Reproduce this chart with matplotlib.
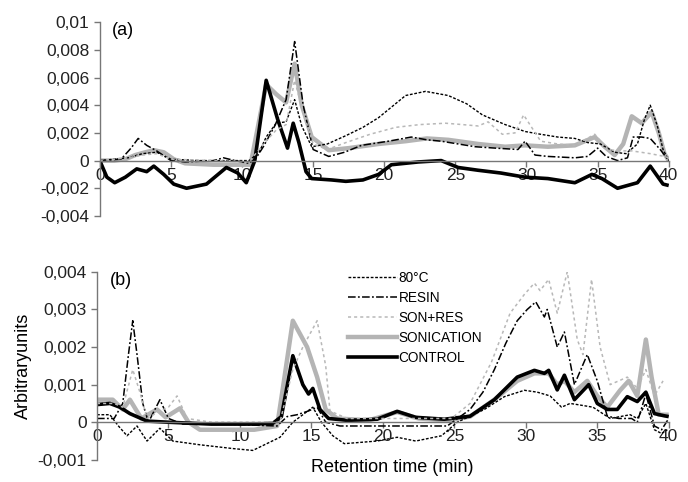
import matplotlib
matplotlib.use("Agg")
import matplotlib.pyplot as plt
from matplotlib.lines import Line2D

plt.rcParams['font.family'] = ['Liberation Sans', 'DejaVu Sans']

# ---------------- panel (a) ----------------
t_ctrl_a = [0, 0.5, 1.05, 1.8, 2.6, 3.3, 3.8, 4.5, 5.2, 6.1, 7.5, 8.9, 9.7, 10.3, 10.9, 11.7, 12.5, 13.2, 13.6, 14.0,
            14.5, 14.9, 16.3, 17.3, 18.5, 19.6, 20.5, 22.4, 24.0, 25.2, 26.6, 28.2, 29.9, 31.5, 33.4, 34.6, 35.3,
            36.4, 37.8, 38.7, 39.6, 40]
ctrl_a = [0, -0.0012, -0.0016, -0.0012, -0.0006, -0.0008, -0.0004, -0.001, -0.0017, -0.002, -0.0017, -0.0005,
          -0.0009, -0.0016, 0.0, 0.0058, 0.003, 0.0009, 0.0027, 0.0013, -0.0008, -0.0013, -0.0014, -0.0015, -0.0014,
          -0.001, -0.0003, -0.0001, 0.0, -0.0005, -0.0007, -0.0009, -0.0012, -0.0013, -0.0016, -0.001, -0.0013,
          -0.002, -0.0016, -0.0004, -0.0017, -0.0018]

t_son_a = [0, 1, 1.8, 2.5, 3.2, 3.8, 4.5, 5.2, 6, 8, 10, 10.6, 11.7, 12.4, 13.1, 13.7, 14.2, 14.9, 16.1, 17.5, 19.6,
           21.5, 23, 24.5, 26.6, 28.5, 29.9, 31.5, 33.4, 34.8, 35.5, 36.2, 36.8, 37.4, 38.1, 38.8, 39.3, 39.7, 40]
son_a = [0, 0, 0.0001, 0.0004, 0.0006, 0.00075, 0.0006, 0.0001, -0.0002, -0.0003, -0.0003, -0.0003, 0.0055, 0.0048,
         0.0042, 0.007, 0.004, 0.0017, 0.00075, 0.0009, 0.0012, 0.0014, 0.0016, 0.0015, 0.0012, 0.001, 0.0011, 0.001,
         0.0011, 0.0017, 0.001, 0.0004, 0.0012, 0.0032, 0.0027, 0.0035, 0.002, 0.0005, 0.0]

t_80_a = [0, 2, 3, 4, 5, 7, 9, 10.5, 11.2, 11.7, 12.4, 13.1, 13.7, 14.2, 14.9, 16, 17.3, 18.5, 19.6, 21.5, 22.9, 24.5,
          25.8, 26.9, 28.5, 29.9, 31, 32.2, 33.4, 34.3, 35.2, 36.2, 37, 37.8, 38.3, 38.7, 39.2, 39.6, 40]
h80_a = [0, 0.0002, 0.0005, 0.0006, 0.0001, 0, 0, 0, 0.0006, 0.0017, 0.0027, 0.0028, 0.0044, 0.0025, 0.001, 0.0012,
         0.0018, 0.0024, 0.0031, 0.0047, 0.005, 0.0047, 0.0041, 0.0033, 0.0026, 0.0021, 0.0019, 0.0017, 0.0016,
         0.0013, 0.0012, 0.0006, 0.0005, 0.0012, 0.003, 0.004, 0.0025, 0.0008, 0.0]

t_res_a = [0, 1.5, 2.2, 2.7, 3.3, 4, 5, 6, 8, 8.7, 9.5, 10.5, 11, 11.5, 12.3, 13.1, 13.7, 14.3, 15, 16.1, 17.2, 18.4,
           20.3, 21.9, 23, 24, 26.4, 27.8, 29.4, 29.9, 30.6, 31.5, 33.4, 34.3, 35, 35.6, 36.4, 37.1, 37.5, 38.1,
           38.7, 39.4, 40]
res_a = [0, 0.0001, 0.0009, 0.0016, 0.0011, 0.0007, 0.0, -0.0001, 0.0, 0.0002, 0.0, -0.0002, 0.0002, 0.001, 0.0025,
         0.0044, 0.0086, 0.004, 0.0008, 0.0003, 0.0006, 0.0011, 0.0014, 0.0017, 0.0015, 0.0014, 0.001, 0.0009,
         0.0008, 0.0014, 0.0004, 0.0003, 0.0002, 0.0003, 0.0009, 0.0003, 0.0, 0.0002, 0.0017, 0.0017, 0.0016,
         0.0008, 0.0]

t_sr_a = [0, 2, 3, 4, 5, 8, 10.5, 11.5, 12.4, 13.1, 13.7, 14.3, 15, 16, 17.3, 19, 20.8, 22.5, 24.3, 25.5, 26.6, 27.3,
          28.3, 29.2, 29.8, 30.3, 31, 32.2, 33.4, 34.8, 35.7, 36.5, 37.4, 38.7, 39.7, 40]
sr_a = [0, 0.0002, 0.0004, 0.0005, 0.0001, 0, -0.0001, 0.0012, 0.0022, 0.0026, 0.0058, 0.0035, 0.0012, 0.0008,
        0.0013, 0.0019, 0.0024, 0.0026, 0.0027, 0.0026, 0.0025, 0.0028, 0.0019, 0.002, 0.0033, 0.0025, 0.0014,
        0.0012, 0.0011, 0.0019, 0.0008, 0.0007, 0.0007, 0.0005, 0.0003, 0.0002]

# ---------------- panel (b) ----------------
t_ctrl_b = [0, 0.9, 1.6, 2.3, 3.5, 5, 8, 11, 12.3, 12.9, 13.7, 14.4, 14.8, 15.1, 15.6, 16.2, 17.5, 19.6, 21, 22.3,
            24.3, 26.1, 27.8, 29.4, 30.6, 31.3, 31.6, 32.2, 32.7, 33.4, 33.9, 34.4, 35, 35.7, 36.4, 37.1, 37.8,
            38.4, 39, 39.7, 40]
ctrl_b = [0.00047, 0.0005, 0.0004, 0.00023, 0.00003, 0.0, -0.00005, -0.00005, -0.00003, 0.00015, 0.00177, 0.001,
          0.00075, 0.0009, 0.00034, 0.0001, 0.00005, 0.00008, 0.00029, 0.00013, 0.00008, 0.00016, 0.0006, 0.0012,
          0.00138, 0.0013, 0.00138, 0.00086, 0.00125, 0.0006, 0.0008, 0.001, 0.0005, 0.00034, 0.00034, 0.00068,
          0.00055, 0.0008, 0.00023, 0.00017, 0.00015]

t_son_b = [0, 1.1, 1.8, 2.3, 3.1, 4.2, 4.8, 5.8, 6.4, 7.2, 9, 11, 12.6, 13, 13.7, 14.7, 15.4, 16, 16.8, 19, 21, 22.5,
           24.5, 26.1, 27.8, 29.4, 30.6, 31.6, 32.2, 32.7, 33.4, 34.3, 35, 35.7, 36.6, 37.2, 37.8, 38.4, 38.8,
           39.3, 39.9, 40]
son_b = [0.0006, 0.0006, 0.00034, 0.0006, 0.0001, 0.00034, 0.00013, 0.00037, 0.0, -0.0002, -0.0002, -0.0002,
         -0.0001, 0.0009, 0.0027, 0.002, 0.0012, 0.00034, 0.0001, 0.00005, 0.00027, 0.0001, 0.00005, 0.00015,
         0.0006, 0.0011, 0.0013, 0.0013, 0.001, 0.0011, 0.0008, 0.0011, 0.0007, 0.0004, 0.00085, 0.0011, 0.0007,
         0.0022, 0.0012, 0.0002, 0.0002, 0.0002]

t_res_b = [0, 1.2, 1.8, 2.2, 2.5, 2.8, 3.2, 3.6, 4.4, 5, 6, 9, 12.6, 13.3, 14, 14.8, 15.4, 16, 17, 20, 22, 24.5, 26.1,
           27, 27.8, 28.6, 29.4, 30.1, 30.7, 31.3, 31.5, 32.2, 32.7, 33.4, 34.3, 35, 35.7, 36.5, 37.4, 37.8, 38.4,
           39, 39.5, 40]
res_b = [0.0001, 0.0001, 0.0005, 0.0018, 0.0027, 0.0018, 0.0005, 0.0, 0.0006, 0.0001, -0.00005, -0.00005, -0.0001,
         0.00015, 0.0002, 0.0003, 0.0004, 0.0, -0.0001, -0.0001, -0.0001, -0.0001, 0.00034, 0.0008, 0.0014, 0.0021,
         0.0027, 0.003, 0.0032, 0.0028, 0.003, 0.002, 0.0024, 0.001, 0.0018, 0.0011, 0.00016, 0.0001, 0.0001, 0.0,
         0.00075, -0.0001, -0.0002, 0.0001]

t_80_b = [0, 0.9, 1.5, 2.1, 2.8, 3.5, 4.4, 5.3, 7.2, 9.5, 10.9, 12.8, 13.7, 15.1, 15.7, 16.5, 17.3, 19.6, 21, 22.3,
          24.1, 25.2, 27.1, 28.5, 29.9, 30.8, 31.7, 32.5, 33.1, 33.6, 34.7, 35.9, 37.3, 37.8, 38.4, 39, 39.5, 39.9]
h80_b = [0.0002, 0.0002, -0.0001, -0.00036, -0.0001, -0.0005, -0.00016, -0.0005, -0.0006, -0.0007, -0.00075,
         -0.0004, 0.0, 0.0004, 0.0, -0.00036, -0.00057, -0.0005, -0.0004, -0.0005, -0.00036, 0.0, 0.00034, 0.00068,
         0.00085, 0.0008, 0.0007, 0.0004, 0.0005, 0.00047, 0.0004, 0.0001, 0.0002, 0.0001, 0.0005, -0.0002, -0.0003,
         -0.0002]

t_sr_b = [0, 1.2, 1.8, 2.5, 3.0, 3.5, 4.4, 5.0, 5.6, 6.3, 8, 12.8, 13.7, 14.4, 15.4, 16.0, 16.3, 17.5, 20, 24.8, 26.1,
          27.6, 28.9, 29.9, 30.6, 31.0, 31.6, 32.2, 32.9, 33.6, 34.0, 34.6, 35.2, 35.9, 37.1, 37.8, 38.4, 39.0, 39.6]
sr_b = [0.0005, 0.0005, 0.0004, 0.0014, 0.0008, 0.0001, 0.0003, 0.0004, 0.0007, 0.0001, 0.0, 0.0, 0.0014, 0.002,
        0.0027, 0.0015, 0.0003, 0.0001, 0.0001, 0.0001, 0.0005, 0.0016, 0.0029, 0.0034, 0.0037, 0.0035, 0.0038,
        0.0029, 0.004, 0.0022, 0.0018, 0.0038, 0.002, 0.001, 0.0012, 0.0009, 0.0014, 0.0007, 0.0011]

xticks = [0, 5, 10, 15, 20, 25, 30, 35, 40]
yticks_a = [0.01, 0.008, 0.006, 0.004, 0.002, 0, -0.002, -0.004]
ylabels_a = ["0,01", "0,008", "0,006", "0,004", "0,002", "0", "-0,002", "-0,004"]
yticks_b = [0.004, 0.003, 0.002, 0.001, 0, -0.001]
ylabels_b = ["0,004", "0,003", "0,002", "0,001", "0", "-0,001"]
names = ["80°C", "RESIN", "SON+RES", "SONICATION", "CONTROL"]

# styles: 80°C, RESIN, SON+RES, SONICATION, CONTROL
sty = {
    "80°C": dict(color="black", lw=1.0, ls=(0, (2, 1.2))),
    "RESIN": dict(color="black", lw=1.1, ls=(0, (5, 1.5, 1.2, 1.5))),
    "SON+RES": dict(color="#b8b8b8", lw=1.1, ls=(0, (2, 2))),
    "SONICATION": dict(color="#b4b4b4", lw=3.2, ls="-"),
    "CONTROL": dict(color="black", lw=2.6, ls="-"),
}

fig = plt.figure(figsize=(6.88, 4.82), dpi=100)
ax1 = fig.add_axes([0.145, 0.552, 0.827, 0.402])
ax2 = fig.add_axes([0.141, 0.046, 0.831, 0.39])


def draw(ax, data):
    # thick ones first so the thin lines stay visible
    for nm in ["SONICATION", "CONTROL", "80°C", "RESIN", "SON+RES"]:
        t, v = data[nm]
        ax.plot(t, v, solid_capstyle="butt", **sty[nm])


def style_axes(ax, yt, yl, ylim):
    ax.set_xlim(0, 40)
    ax.set_ylim(*ylim)
    ax.spines['top'].set_visible(False)
    ax.spines['right'].set_visible(False)
    ax.spines['bottom'].set_position(('data', 0))
    for s in ['left', 'bottom']:
        ax.spines[s].set_color('#777777')
        ax.spines[s].set_linewidth(1.0)
    ax.set_xticks(xticks)
    ax.set_xticklabels([str(x) for x in xticks])
    ax.set_yticks(yt)
    ax.set_yticklabels(yl)
    ax.tick_params(axis='both', colors='#777777', labelcolor='#222222', labelsize=12.5, length=4, width=1)
    ax.tick_params(axis='x', pad=1)


draw(ax1, {"80°C": (t_80_a, h80_a), "RESIN": (t_res_a, res_a), "SON+RES": (t_sr_a, sr_a),
           "SONICATION": (t_son_a, son_a), "CONTROL": (t_ctrl_a, ctrl_a)})
draw(ax2, {"80°C": (t_80_b, h80_b), "RESIN": (t_res_b, res_b), "SON+RES": (t_sr_b, sr_b),
           "SONICATION": (t_son_b, son_b), "CONTROL": (t_ctrl_b, ctrl_b)})

style_axes(ax1, yticks_a, ylabels_a, (-0.004, 0.01))
style_axes(ax2, yticks_b, ylabels_b, (-0.001, 0.004))

ax1.text(0.022, 1.0, "(a)", transform=ax1.transAxes, fontsize=13, va='top', ha='left')
ax2.text(0.022, 1.0, "(b)", transform=ax2.transAxes, fontsize=13, va='top', ha='left')

ax2.set_ylabel("Arbitraryunits", fontsize=13, labelpad=4)
fig.text(0.57, 0.03, "Retention time (min)", fontsize=13, ha='center', va='center')

handles = [Line2D([], [], **sty[nm]) for nm in names]
ax2.legend(handles, names, loc='upper left', bbox_to_anchor=(0.43, 1.035), frameon=False, fontsize=9.8,
           handlelength=3.6, handletextpad=0.1, labelspacing=0.45, borderaxespad=0)

fig.savefig("out.png", dpi=100)
